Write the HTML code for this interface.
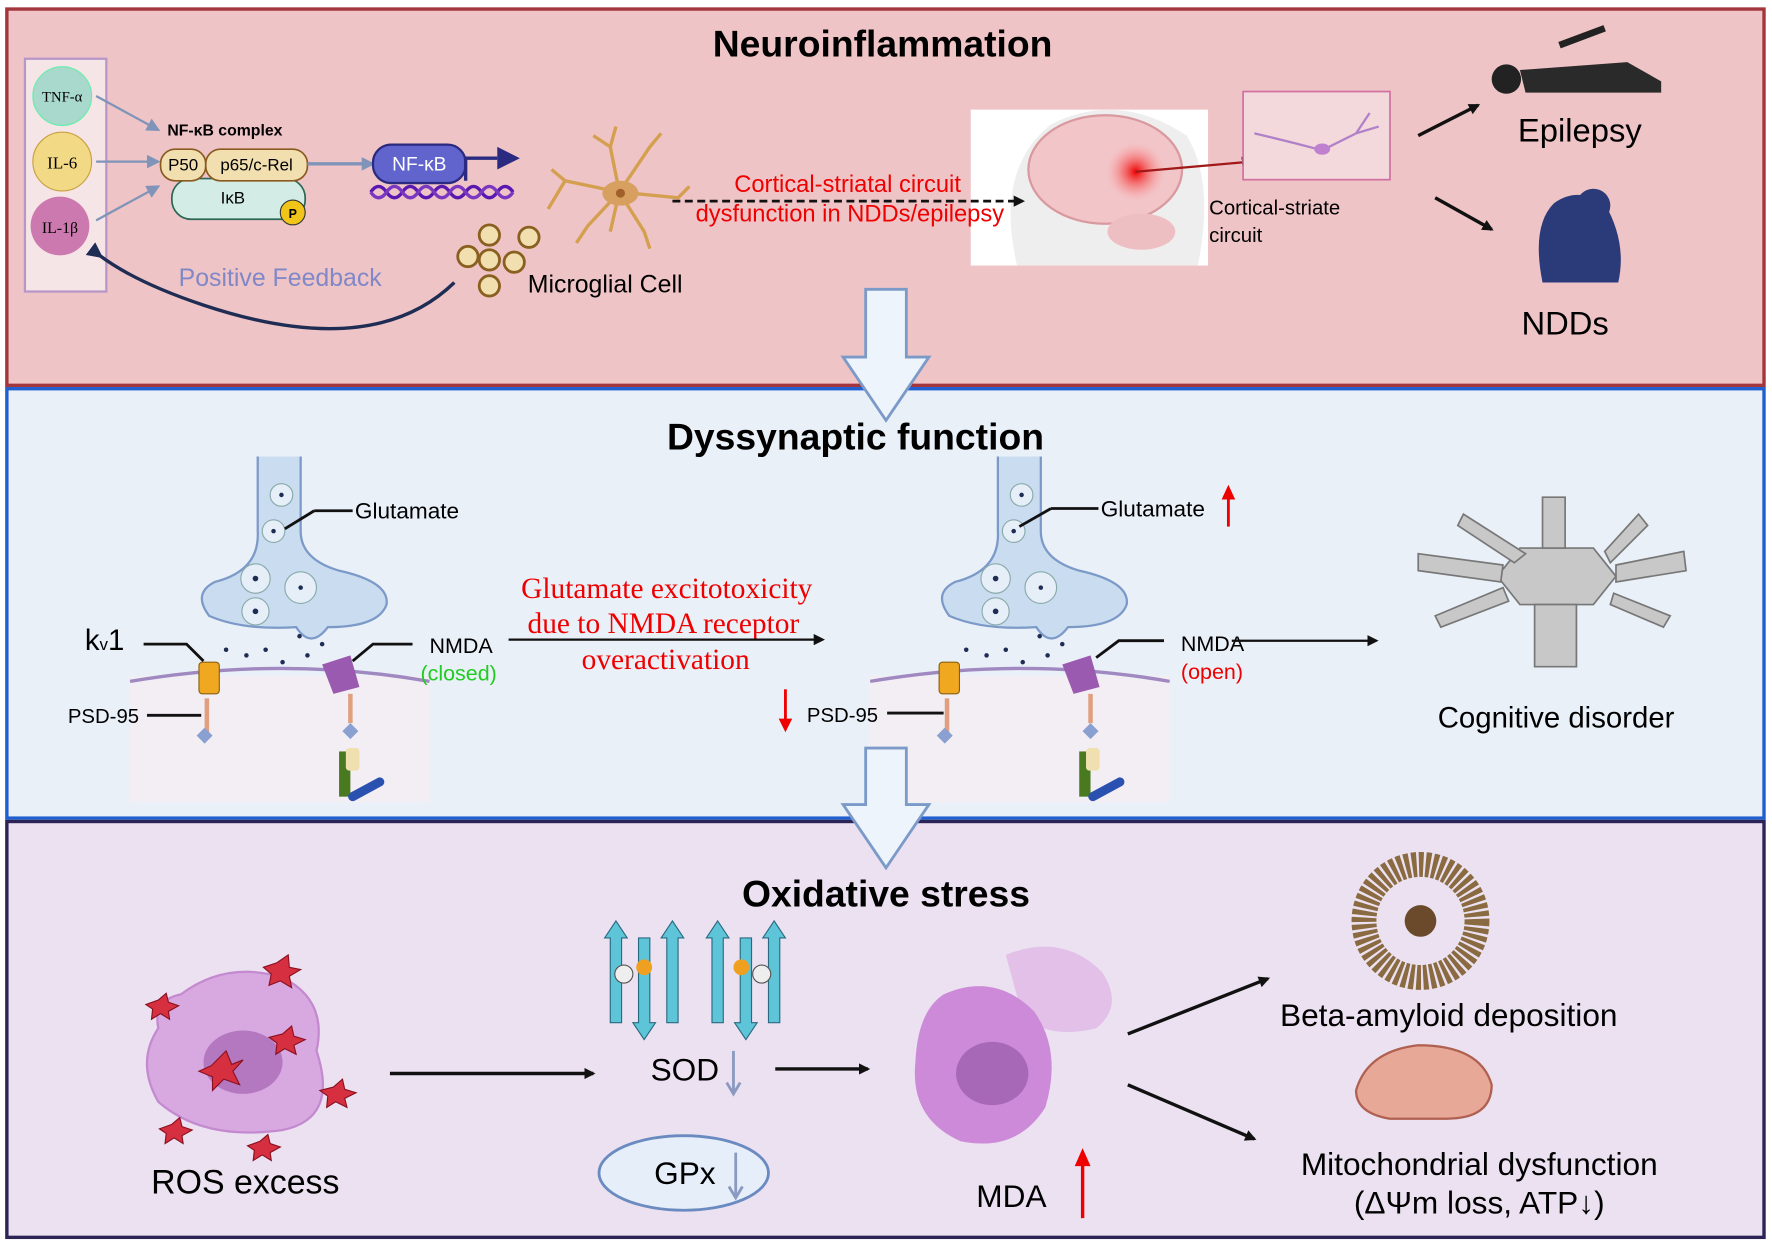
<!DOCTYPE html>
<html><head><meta charset="utf-8"><style>
html,body{margin:0;padding:0;background:#fff;}
svg{display:block;}
text{font-family:"Liberation Sans",sans-serif;}
.s{font-family:"Liberation Serif",serif;}
</style></head><body>
<svg width="1772" height="1243" viewBox="0 0 1568 1100" xmlns="http://www.w3.org/2000/svg">
<defs>
<marker id="ah" markerWidth="10" markerHeight="10" refX="8" refY="5" orient="auto" markerUnits="userSpaceOnUse"><path d="M0,0 L10,5 L0,10 z" fill="#111"/></marker>
<marker id="ab" markerWidth="12" markerHeight="12" refX="10" refY="6" orient="auto" markerUnits="userSpaceOnUse"><path d="M0,0 L12,6 L0,12 z" fill="#7f94b8"/></marker>
<marker id="an" markerWidth="14" markerHeight="14" refX="4" refY="7" orient="auto" markerUnits="userSpaceOnUse"><path d="M14,0 L0,7 L14,14 z" fill="#1f2d55"/></marker>
<radialGradient id="rg"><stop offset="0" stop-color="#e00"/><stop offset="1" stop-color="#f99" stop-opacity="0"/></radialGradient>
<clipPath id="bc"><rect x="859" y="97" width="210" height="138"/></clipPath>
</defs>
<!-- panels -->
<rect x="6" y="8" width="1555" height="333" fill="#efc4c6" stroke="#a3363c" stroke-width="3"/>
<rect x="6" y="344" width="1555" height="380" fill="#eaf0f8" stroke="#1f5fd0" stroke-width="3"/>
<rect x="6" y="727" width="1555" height="368" fill="#ebe1f1" stroke="#2c2456" stroke-width="3"/>

<!-- TOP -->
<text x="781" y="50" font-size="33" font-weight="bold" text-anchor="middle">Neuroinflammation</text>
<rect x="22" y="52" width="72" height="206" fill="#f5e5e6" stroke="#b896c8" stroke-width="2"/>
<circle cx="55" cy="85" r="26" fill="#a9d8cd" stroke="#6ea"/>
<text class="s" x="55" y="90" font-size="13" text-anchor="middle">TNF-α</text>
<circle cx="55" cy="143" r="26" fill="#f2d986" stroke="#c9a040"/>
<text class="s" x="55" y="149" font-size="15" text-anchor="middle">IL-6</text>
<circle cx="53" cy="200" r="26" fill="#cc79b0"/>
<text class="s" x="53" y="206" font-size="14" text-anchor="middle">IL-1β</text>
<line x1="85" y1="85" x2="140" y2="115" stroke="#7f94b8" stroke-width="2" marker-end="url(#ab)"/>
<line x1="85" y1="143" x2="140" y2="143" stroke="#7f94b8" stroke-width="2" marker-end="url(#ab)"/>
<line x1="85" y1="195" x2="140" y2="165" stroke="#7f94b8" stroke-width="2" marker-end="url(#ab)"/>
<text x="148" y="120" font-size="14" font-weight="bold">NF-κB complex</text>
<rect x="152" y="158" width="118" height="36" rx="17" fill="#d3ede6" stroke="#2c6655" stroke-width="1.5"/>
<text x="206" y="180" font-size="15" text-anchor="middle">IκB</text>
<circle cx="259" cy="188" r="11" fill="#f0c419" stroke="#333"/>
<text x="259" y="193" font-size="11" font-weight="bold" text-anchor="middle">P</text>
<rect x="142" y="132" width="40" height="28" rx="13" fill="#f1dfb0" stroke="#8a5a20" stroke-width="1.5"/>
<text x="162" y="151" font-size="15" text-anchor="middle">P50</text>
<rect x="182" y="132" width="90" height="28" rx="13" fill="#f1dfb0" stroke="#8a5a20" stroke-width="1.5"/>
<text x="227" y="151" font-size="15" text-anchor="middle">p65/c-Rel</text>
<line x1="272" y1="145" x2="330" y2="145" stroke="#7f94b8" stroke-width="3" marker-end="url(#ab)"/>
<rect x="330" y="128" width="82" height="34" rx="16" fill="#6064cc" stroke="#2a2a80" stroke-width="2"/>
<text x="371" y="151" font-size="17" fill="#fff" text-anchor="middle">NF-κB</text>
<path d="M412,160 V140 H440" stroke="#2a2a80" stroke-width="3" fill="none"/>
<path d="M440,130 L460,140 L440,150 z" fill="#2a2a80"/>
<path d="M328,170 q7,-10 14,0 t14,0 t14,0 t14,0 t14,0 t14,0 t14,0 t14,0 t14,0" stroke="#5a18b0" stroke-width="3" fill="none"/>
<path d="M328,170 q7,10 14,0 t14,0 t14,0 t14,0 t14,0 t14,0 t14,0 t14,0 t14,0" stroke="#7a38c0" stroke-width="3" fill="none"/>
<g stroke="#d4a050" stroke-width="3" fill="none">
<path d="M548,170 L540,130 L545,112 M540,130 L525,120 M548,170 L500,160 L488,150 M500,160 L485,185 M548,170 L520,200 L510,215 M548,170 L575,130 L585,118 M548,170 L600,175 L610,165 M548,170 L570,205 L575,220 M548,170 L540,205"/>
</g>
<ellipse cx="549" cy="171" rx="16" ry="11" fill="#d8a060"/>
<circle cx="549" cy="171" r="4" fill="#a0602a"/>
<g fill="#f1dfb0" stroke="#8a6020" stroke-width="2.5">
<circle cx="433" cy="208" r="9"/><circle cx="468" cy="210" r="9"/><circle cx="414" cy="227" r="9"/><circle cx="433" cy="230" r="9"/><circle cx="455" cy="232" r="9"/><circle cx="433" cy="253" r="9"/></g>
<text x="467" y="259" font-size="22">Microglial Cell</text>
<text x="158" y="253" font-size="22" fill="#8088c8">Positive Feedback</text>
<path d="M402,250 Q330,320 180,270 Q120,250 88,226" stroke="#1f2d55" stroke-width="3" fill="none" marker-end="url(#an)"/>
<rect x="859" y="97" width="210" height="138" fill="#fff"/>
<g clip-path="url(#bc)">
<path d="M900,235 Q880,150 930,110 Q990,80 1050,120 Q1075,160 1060,235 z" fill="#eeeeee"/>
<ellipse cx="978" cy="150" rx="68" ry="48" fill="#f2c5c8" stroke="#d89a9e" stroke-width="2"/>
<ellipse cx="1010" cy="205" rx="30" ry="16" fill="#eebfc2"/>
<circle cx="1005" cy="152" r="26" fill="url(#rg)"/>
</g>
<text x="750" y="170" font-size="21" fill="#e00" text-anchor="middle">Cortical-striatal circuit</text>
<text x="752" y="196" font-size="21" fill="#e00" text-anchor="middle">dysfunction in NDDs/epilepsy</text>
<line x1="595" y1="178" x2="905" y2="178" stroke="#111" stroke-width="2.5" stroke-dasharray="7,4" marker-end="url(#ah)"/>
<line x1="1005" y1="152" x2="1107" y2="143" stroke="#a01818" stroke-width="2" marker-end="url(#ah)"/>
<rect x="1100" y="81" width="130" height="78" fill="#f3d8dc" stroke="#d070a0" stroke-width="1.5"/>
<path d="M1110,118 Q1140,125 1170,133 L1200,118 L1212,100 M1200,118 L1220,112" stroke="#b080c8" stroke-width="2" fill="none"/>
<ellipse cx="1170" cy="132" rx="7" ry="5" fill="#c080d0"/>
<text x="1070" y="190" font-size="18">Cortical-striate</text>
<text x="1070" y="214" font-size="18">circuit</text>
<line x1="1255" y1="120" x2="1308" y2="93" stroke="#111" stroke-width="3" marker-end="url(#ah)"/>
<line x1="1270" y1="175" x2="1320" y2="203" stroke="#111" stroke-width="3" marker-end="url(#ah)"/>
<circle cx="1333" cy="70" r="13" fill="#222"/>
<path d="M1345,62 L1440,55 L1470,72 L1470,82 L1350,82 z" fill="#2a2a2a"/>
<path d="M1380,40 L1420,25" stroke="#222" stroke-width="6"/>
<text x="1398" y="125" font-size="29" text-anchor="middle">Epilepsy</text>
<path d="M1365,250 Q1355,200 1375,180 Q1395,165 1420,180 Q1440,215 1432,250 z" fill="#2b3a78"/>
<circle cx="1410" cy="182" r="15" fill="#2b3a78"/>
<text x="1385" y="296" font-size="29" text-anchor="middle">NDDs</text>

<!-- MIDDLE -->
<text x="757" y="398" font-size="33" font-weight="bold" text-anchor="middle">Dyssynaptic function</text>
<g id="syn">
<rect x="115" y="598" width="265" height="112" fill="#f3eef4"/>
<path d="M228,404 V470 Q230,505 190,515 Q170,525 185,545 Q215,558 262,555 Q275,575 290,555 Q335,555 342,535 Q345,515 300,505 Q266,495 266,470 V404" fill="#cadcef" stroke="#7c9ac8" stroke-width="2"/>
<circle cx="249" cy="438" r="10" fill="#e6eef8" stroke="#8aa"/><circle cx="242" cy="470" r="10" fill="#e6eef8" stroke="#8aa"/>
<circle cx="226" cy="512" r="13" fill="#e6eef8" stroke="#8aa"/><circle cx="266" cy="520" r="14" fill="#e6eef8" stroke="#8aa"/><circle cx="226" cy="541" r="12" fill="#e6eef8" stroke="#8aa"/>
<g fill="#1f2d55"><circle cx="249" cy="438" r="2"/><circle cx="242" cy="470" r="2"/><circle cx="226" cy="512" r="2.5"/><circle cx="266" cy="520" r="2"/><circle cx="226" cy="541" r="2.5"/></g>
<path d="M115,603 Q250,580 380,603" stroke="#a088c0" stroke-width="3" fill="none"/>
<rect x="176" y="586" width="18" height="28" rx="3" fill="#f0a820" stroke="#8a6010"/>
<path d="M285,588 L310,580 L318,608 L295,614 z" fill="#9a5ab0"/>
<line x1="183" y1="618" x2="183" y2="650" stroke="#e0a080" stroke-width="4"/>
<rect x="176" y="646" width="10" height="10" fill="#8aa0d0" transform="rotate(45 181 651)"/>
<line x1="310" y1="614" x2="310" y2="640" stroke="#e0a080" stroke-width="4"/>
<rect x="305" y="642" width="10" height="10" fill="#8aa0d0" transform="rotate(45 310 647)"/>
<rect x="300" y="665" width="10" height="40" fill="#4a7a20"/><rect x="306" y="662" width="12" height="20" rx="3" fill="#f0e0b0"/>
<line x1="312" y1="705" x2="336" y2="692" stroke="#2a50b0" stroke-width="8" stroke-linecap="round"/>
<g fill="#1f2d55"><circle cx="200" cy="575" r="2"/><circle cx="218" cy="580" r="2"/><circle cx="235" cy="575" r="2"/><circle cx="250" cy="586" r="2"/><circle cx="272" cy="580" r="2"/><circle cx="285" cy="570" r="2"/><circle cx="265" cy="563" r="2"/></g>
</g>
<use href="#syn" transform="translate(655,0)"/>
<line x1="252" y1="468" x2="278" y2="452" stroke="#111" stroke-width="2.5"/><line x1="278" y1="452" x2="312" y2="452" stroke="#111" stroke-width="2.5"/>
<text x="314" y="459" font-size="20">Glutamate</text>
<text x="75" y="575" font-size="26">k<tspan font-size="15">v</tspan>1</text>
<path d="M127,570 H165 L180,585" stroke="#111" stroke-width="2.5" fill="none"/>
<text x="60" y="640" font-size="18">PSD-95</text>
<line x1="130" y1="633" x2="178" y2="633" stroke="#111" stroke-width="2.5"/>
<path d="M365,570 H330 L312,585" stroke="#111" stroke-width="2.5" fill="none"/>
<text x="380" y="578" font-size="19">NMDA</text>
<text x="372" y="602" font-size="19" fill="#2c2">(closed)</text>
<text class="s" x="590" y="529" font-size="26" fill="#e00" text-anchor="middle">Glutamate excitotoxicity</text>
<text class="s" x="587" y="560" font-size="26" fill="#e00" text-anchor="middle">due to NMDA receptor</text>
<text class="s" x="589" y="592" font-size="26" fill="#e00" text-anchor="middle">overactivation</text>
<line x1="450" y1="566" x2="728" y2="566" stroke="#111" stroke-width="2" marker-end="url(#ah)"/>
<line x1="695" y1="610" x2="695" y2="638" stroke="#e00" stroke-width="2.5"/><path d="M689,636 L695,648 L701,636 z" fill="#e00"/>
<line x1="902" y1="466" x2="930" y2="450" stroke="#111" stroke-width="2.5"/><line x1="930" y1="450" x2="972" y2="450" stroke="#111" stroke-width="2.5"/>
<text x="974" y="457" font-size="20">Glutamate</text>
<line x1="1087" y1="466" x2="1087" y2="440" stroke="#e00" stroke-width="2.5"/><path d="M1081,442 L1087,429 L1093,442 z" fill="#e00"/>
<text x="714" y="639" font-size="18">PSD-95</text>
<line x1="785" y1="631" x2="835" y2="631" stroke="#111" stroke-width="2.5"/>
<path d="M1030,567 H990 L970,582" stroke="#111" stroke-width="2.5" fill="none"/>
<text x="1045" y="576" font-size="19">NMDA</text>
<text x="1045" y="601" font-size="19" fill="#e00">(open)</text>
<line x1="1090" y1="567" x2="1218" y2="567" stroke="#111" stroke-width="2" marker-end="url(#ah)"/>
<g fill="#c8c8c8" stroke="#777" stroke-width="1.5">
<polygon points="1345,485 1410,485 1430,510 1410,535 1345,535 1325,510"/>
<polygon points="1365,440 1385,440 1385,485 1365,485"/>
<polygon points="1358,535 1395,535 1395,590 1358,590"/>
<polygon points="1255,490 1330,500 1328,515 1255,505"/>
<polygon points="1430,500 1490,488 1492,505 1430,515"/>
<polygon points="1295,455 1350,490 1340,498 1290,465"/>
<polygon points="1420,488 1450,455 1458,465 1425,498"/>
<polygon points="1270,545 1330,520 1335,532 1275,555"/>
<polygon points="1428,525 1478,545 1472,555 1425,535"/>
</g>
<text x="1377" y="644" font-size="26" text-anchor="middle">Cognitive disorder</text>

<!-- big arrows -->
<path d="M766,256 H802 V316 H822 L784,372 L746,316 H766 z" fill="#eef4fc" stroke="#7c9ac8" stroke-width="2.5"/>
<path d="M766,662 H802 V712 H822 L784,768 L746,712 H766 z" fill="#eef4fc" stroke="#7c9ac8" stroke-width="2.5"/>

<!-- BOTTOM -->
<text x="784" y="802" font-size="33" font-weight="bold" text-anchor="middle">Oxidative stress</text>
<path d="M160,880 Q200,850 250,865 Q290,885 280,930 Q300,990 250,1000 Q180,1010 140,975 Q120,940 140,910 Q135,885 160,880 z" fill="#d8a8e0" stroke="#c48ad0" stroke-width="2"/>
<ellipse cx="215" cy="940" rx="35" ry="28" fill="#b478c0"/>
<g fill="#d63040" stroke="#8a1020">
<polygon points="187,943 200,930 205,942 215,938 206,948 212,960 198,955 188,965 188,953 176,948"/>
<polygon points="245,852 255,845 256,856 266,858 256,864 258,874 248,868 238,872 240,862 233,856"/>
<polygon points="250,915 258,908 260,917 270,920 260,925 262,933 252,928 244,933 245,923 238,918"/>
<polygon points="295,962 303,955 305,964 315,967 305,972 307,980 297,975 289,980 290,970 283,965"/>
<polygon points="140,885 147,879 149,887 158,890 149,895 150,902 142,897 134,902 135,893 129,889"/>
<polygon points="152,995 159,989 161,997 170,1000 161,1005 162,1012 154,1007 146,1012 147,1003 141,999"/>
<polygon points="230,1010 237,1004 239,1012 248,1015 239,1020 240,1027 232,1022 224,1027 225,1018 219,1014"/>
</g>
<text x="217" y="1056" font-size="30" text-anchor="middle">ROS excess</text>
<line x1="345" y1="950" x2="525" y2="950" stroke="#111" stroke-width="3" marker-end="url(#ah)"/>
<g fill="#5ec4d8" stroke="#2a6a80">
<polygon points="535,830 545,815 555,830 550,830 550,905 540,905 540,830"/>
<polygon points="560,905 570,920 580,905 575,905 575,830 565,830 565,905"/>
<polygon points="585,830 595,815 605,830 600,830 600,905 590,905 590,830"/>
<polygon points="625,830 635,815 645,830 640,830 640,905 630,905 630,830"/>
<polygon points="650,905 660,920 670,905 665,905 665,830 655,830 655,905"/>
<polygon points="675,830 685,815 695,830 690,830 690,905 680,905 680,830"/>
</g>
<circle cx="552" cy="862" r="8" fill="#eee" stroke="#555"/><circle cx="570" cy="856" r="7" fill="#f0a020"/>
<circle cx="674" cy="862" r="8" fill="#eee" stroke="#555"/><circle cx="656" cy="856" r="7" fill="#f0a020"/>
<text x="606" y="956" font-size="28" text-anchor="middle">SOD</text>
<line x1="649" y1="930" x2="649" y2="966" stroke="#8a9ac0" stroke-width="2.5"/><path d="M643,958 L649,968 L655,958" stroke="#8a9ac0" stroke-width="2.5" fill="none"/>
<ellipse cx="605" cy="1038" rx="75" ry="33" fill="#e6eefa" stroke="#6a8ac0" stroke-width="2.5"/>
<text x="606" y="1048" font-size="28" text-anchor="middle">GPx</text>
<line x1="651" y1="1020" x2="651" y2="1058" stroke="#8a9ac0" stroke-width="2.5"/><path d="M645,1050 L651,1060 L657,1050" stroke="#8a9ac0" stroke-width="2.5" fill="none"/>
<line x1="686" y1="946" x2="768" y2="946" stroke="#111" stroke-width="3" marker-end="url(#ah)"/>
<path d="M890,845 Q940,825 975,860 Q995,890 970,910 Q930,920 905,900 z" fill="#e0b8e6" opacity="0.8"/>
<path d="M835,880 Q880,860 915,895 Q940,930 925,980 Q900,1020 850,1010 Q805,990 810,940 Q812,895 835,880 z" fill="#cc8ad8"/>
<ellipse cx="878" cy="950" rx="32" ry="28" fill="#a868b8"/>
<text x="895" y="1068" font-size="28" text-anchor="middle">MDA</text>
<line x1="958" y1="1078" x2="958" y2="1030" stroke="#e00" stroke-width="3"/><path d="M951,1032 L958,1016 L965,1032 z" fill="#e00"/>
<line x1="998" y1="915" x2="1122" y2="866" stroke="#111" stroke-width="3" marker-end="url(#ah)"/>
<line x1="998" y1="960" x2="1110" y2="1008" stroke="#111" stroke-width="3" marker-end="url(#ah)"/>
<circle cx="1257" cy="815" r="50" fill="none" stroke="#8a6a40" stroke-width="22" stroke-dasharray="4,2"/>
<circle cx="1257" cy="815" r="14" fill="#6a4a2a"/>
<text x="1282" y="908" font-size="28" text-anchor="middle">Beta-amyloid deposition</text>
<path d="M1200,965 Q1210,930 1255,925 Q1310,925 1320,960 Q1320,990 1280,990 L1230,990 Q1200,985 1200,965 z" fill="#e8a898" stroke="#b06050" stroke-width="2"/>
<text x="1309" y="1040" font-size="28" text-anchor="middle">Mitochondrial dysfunction</text>
<text x="1309" y="1074" font-size="28" text-anchor="middle">(ΔΨm loss, ATP↓)</text>
</svg>
</body></html>
